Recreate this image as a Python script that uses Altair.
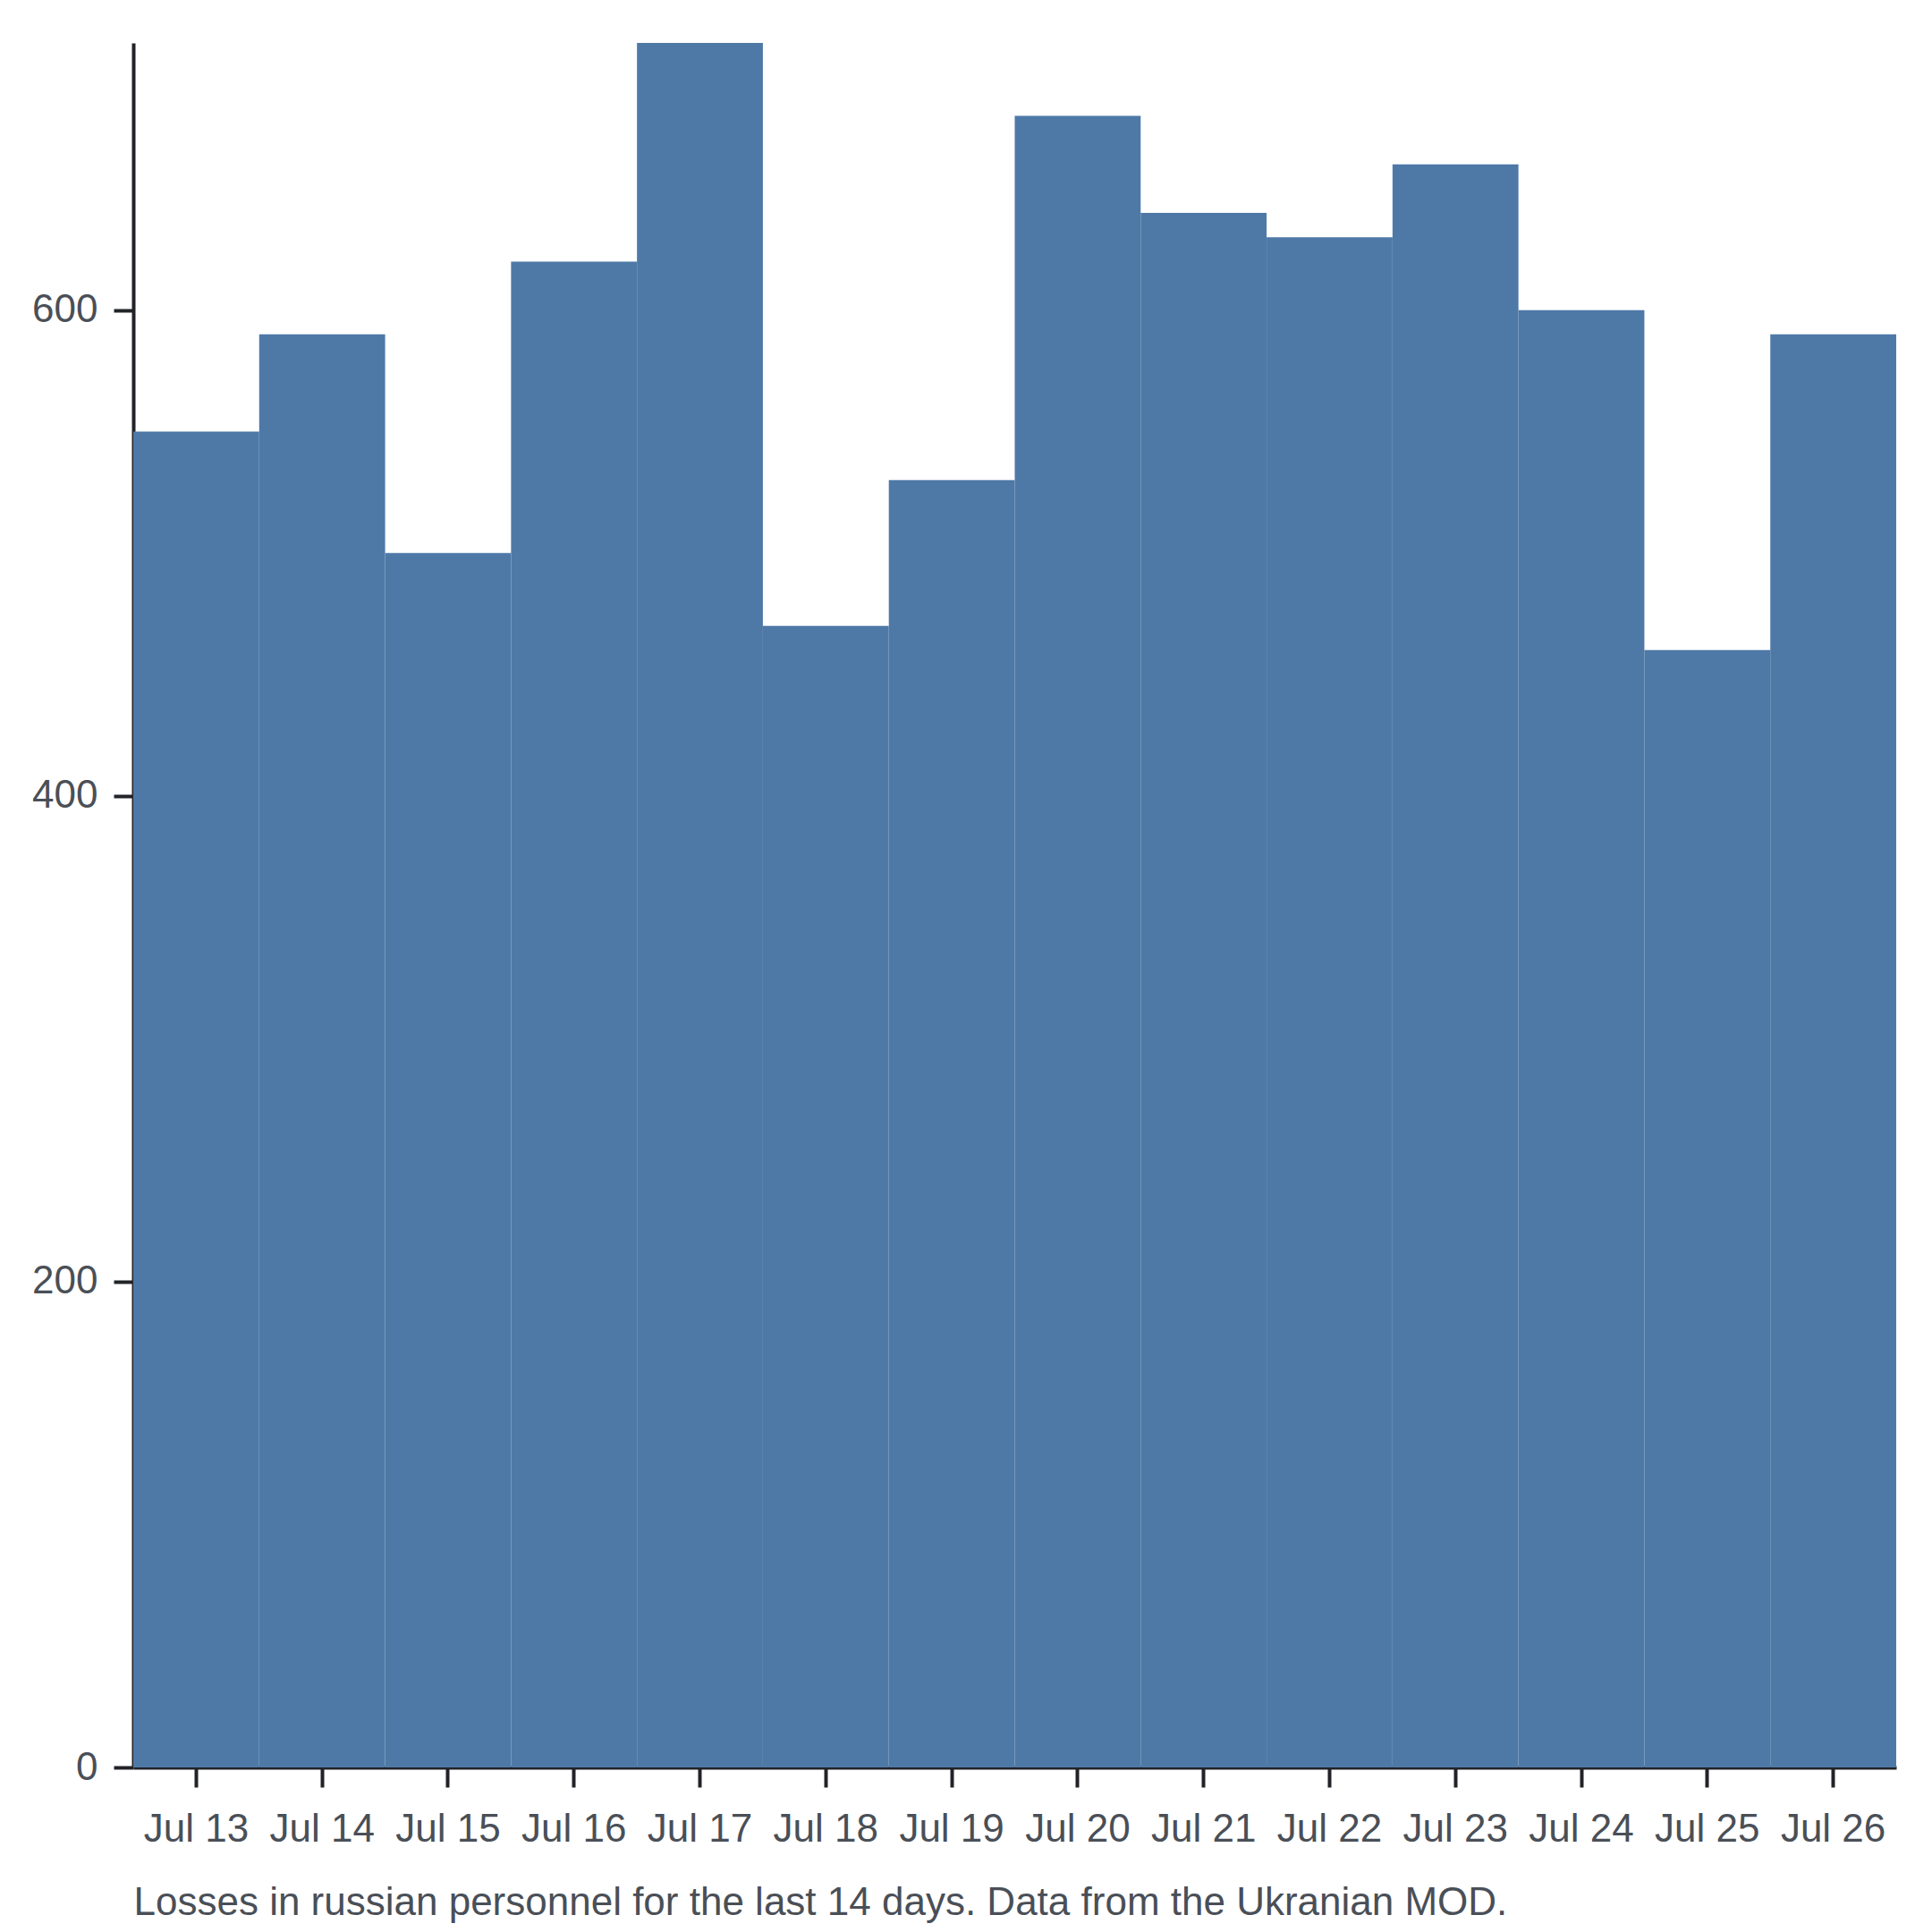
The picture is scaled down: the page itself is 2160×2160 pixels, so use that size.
import altair as alt
import pandas as pd

days = ["Jul 13", "Jul 14", "Jul 15", "Jul 16", "Jul 17", "Jul 18", "Jul 19",
        "Jul 20", "Jul 21", "Jul 22", "Jul 23", "Jul 24", "Jul 25", "Jul 26"]
losses = [550, 590, 500, 620, 710, 470, 530, 680, 640, 630, 660, 600, 460, 590]
y_ticks = [0, 200, 400, 600]
caption = "Losses in russian personnel for the last 14 days. Data from the Ukranian MOD."

df = pd.DataFrame({"day": days, "losses": losses})

FONT = "Liberation Sans"
TEXT = "#4a4f57"
LINE = "#212328"

chart = alt.Chart(df).mark_bar(color="#4e79a7").encode(
    x=alt.X("day:O", sort=None,
            scale=alt.Scale(paddingInner=0, paddingOuter=0),
            axis=alt.Axis(title=caption, labelAngle=0, labelFontSize=44,
                          labelFont=FONT, labelColor=TEXT, labelPadding=25,
                          tickSize=22, tickWidth=4, tickColor=LINE,
                          domainWidth=4, domainColor=LINE,
                          titleFont=FONT, titleFontSize=44, titleColor=TEXT,
                          titleFontWeight="normal", titleAnchor="start",
                          titleAlign="left", titleBaseline="alphabetic",
                          titleX=0, titleY=164)),
    y=alt.Y("losses:Q", scale=alt.Scale(nice=False, zero=True),
            axis=alt.Axis(title=None, values=y_ticks, grid=False,
                          labelFontSize=44, labelFont=FONT, labelColor=TEXT,
                          labelPadding=18, tickSize=22, tickWidth=4,
                          tickColor=LINE, domainWidth=4, domainColor=LINE)),
).properties(
    width=1971,
    height=1928,
    autosize=alt.AutoSizeParams(type="none"),
    padding={"left": 141, "top": 40, "right": 32, "bottom": 180},
).configure_view(stroke=None)

chart.save("out.html", embed_options={"renderer": "svg", "actions": False})
